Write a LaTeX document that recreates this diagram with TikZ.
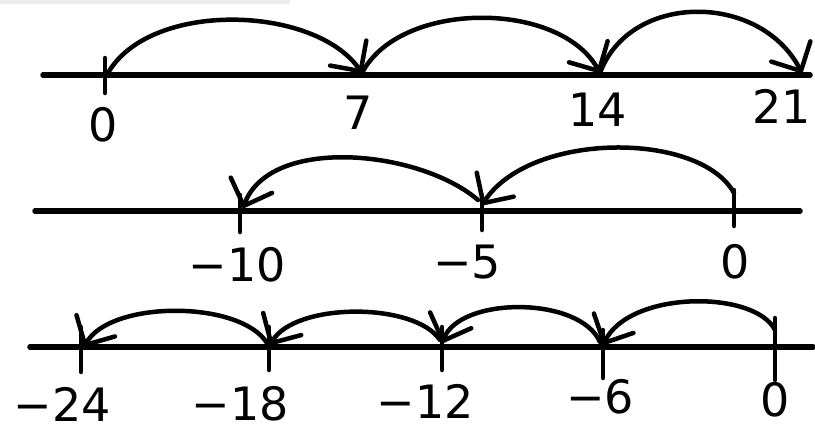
\documentclass[tikz,border=0pt]{standalone}
\usepackage{fontspec}
\setmainfont{DejaVu Sans}
\usetikzlibrary{arrows.meta}
\begin{document}
\begin{tikzpicture}[x=1pt,y=-1pt,
  axis/.style={line width=5.5pt,line cap=round},
  tickmark/.style={line width=4.5pt,line cap=round},
  hop/.style={line width=4.5pt,line cap=round,-{Straight Barb[length=22pt,width=44pt,line width=4.5pt,round]}},
  lab/.style={font=\fontsize{46}{46}\selectfont,inner sep=0pt}]
\useasboundingbox (0,0) rectangle (815,437);
\fill[black!7] (0,0) rectangle (290,4);
% ---------- row 1 ----------
\coordinate (a0) at (43,75); \coordinate (a1) at (810,75);
\draw[axis] (a0) -- (a1);
\coordinate (t0t) at (105,58); \coordinate (t0b) at (105,93);
\draw[tickmark] (t0t) -- (t0b);
\coordinate (p0) at (108,73); \coordinate (p7) at (362,73);
\coordinate (p14) at (600,73); \coordinate (p21) at (802,73);
\draw[hop] (p0) .. controls (150,0) and (315,5) .. (p7);
\draw[hop] (p7) .. controls (400,0) and (560,0) .. (p14);
\draw[hop] (p14) .. controls (630,-8) and (760,-8) .. (p21);
\node[lab] (l0) at (103,125) {0};
\node[lab] (l7) at (358,113) {7};
\node[lab] (l14) at (598,110) {14};
\node[lab] (l21) at (782,106) {21};
% ---------- row 2 ----------
\coordinate (b0) at (35,211); \coordinate (b1) at (800,211);
\draw[axis] (b0) -- (b1);
\coordinate (m10t) at (240,195); \coordinate (m10b) at (240,232);
\coordinate (m5t) at (482,195); \coordinate (m5b) at (482,230);
\coordinate (z2t) at (734,190); \coordinate (z2b) at (734,226);
\draw[tickmark] (m10t) -- (m10b);
\draw[tickmark] (m5t) -- (m5b);
\draw[tickmark] (z2t) -- (z2b);
\coordinate (q0) at (734,193); \coordinate (q5) at (482,205);
\coordinate (q5s) at (478,200); \coordinate (q10) at (243,208);
\draw[hop] (q0) .. controls (700,131) and (530,131) .. (q5);
\draw[hop] (q5s) .. controls (420,150) and (270,135) .. (q10);
\node[lab] (lm10) at (237,265) {−10};
\node[lab] (lm5) at (467,262) {−5};
\node[lab] (lz2) at (735,262) {0};
% ---------- row 3 ----------
\coordinate (c0) at (30,347); \coordinate (c1) at (813,347);
\draw[axis] (c0) -- (c1);
\coordinate (n24t) at (81,327); \coordinate (n24b) at (81,372);
\coordinate (n18t) at (269,327); \coordinate (n18b) at (269,370);
\coordinate (n12t) at (442,327); \coordinate (n12b) at (442,370);
\coordinate (n6t) at (603,330); \coordinate (n6b) at (603,378);
\coordinate (z3t) at (775,318); \coordinate (z3b) at (775,380);
\draw[tickmark] (n24t) -- (n24b);
\draw[tickmark] (n18t) -- (n18b);
\draw[tickmark] (n12t) -- (n12b);
\draw[tickmark] (n6t) -- (n6b);
\draw[tickmark] (z3t) -- (z3b);
\coordinate (r0) at (775,330); \coordinate (r6) at (603,345);
\coordinate (r6s) at (600,342); \coordinate (r12) at (442,343);
\coordinate (r12s) at (440,340); \coordinate (r18) at (270,345);
\coordinate (r18s) at (267,343); \coordinate (r24) at (84,347);
\draw[hop] (r0) .. controls (755,290) and (630,290) .. (r6);
\draw[hop] (r6s) .. controls (580,296) and (460,296) .. (r12);
\draw[hop] (r12s) .. controls (415,302) and (295,302) .. (r18);
\draw[hop] (r18s) .. controls (240,300) and (110,300) .. (r24);
\node[lab] (lm24) at (62,404) {−24};
\node[lab] (lm18) at (240,404) {−18};
\node[lab] (lm12) at (425,401) {−12};
\node[lab] (lm6) at (600,397) {−6};
\node[lab] (lz3) at (775,400) {0};
\end{tikzpicture}
\end{document}
